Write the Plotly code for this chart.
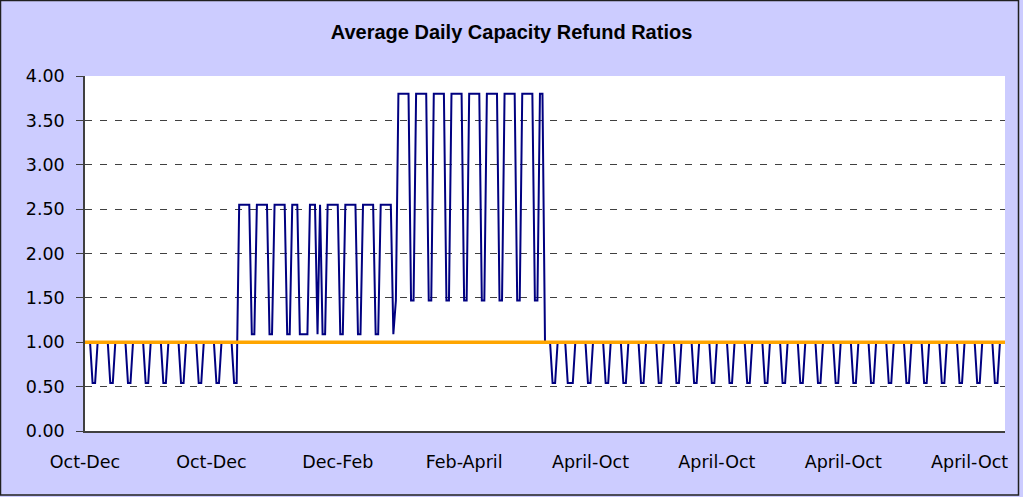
import plotly.graph_objects as go

# daily ratios, 1 Oct 2008 .. 30 Sep 2009 (weekdays high, weekends/holidays low)
oct_nov = [
    1.00, 1.00, 1.00, 0.54, 0.54,
    1.00, 1.00, 1.00, 1.00, 1.00, 0.54, 0.54,
    1.00, 1.00, 1.00, 1.00, 1.00, 0.54, 0.54,
    1.00, 1.00, 1.00, 1.00, 1.00, 0.54, 0.54,
    1.00, 1.00, 1.00, 1.00, 1.00,
    0.54, 0.54,
    1.00, 1.00, 1.00, 1.00, 1.00, 0.54, 0.54,
    1.00, 1.00, 1.00, 1.00, 1.00, 0.54, 0.54,
    1.00, 1.00, 1.00, 1.00, 1.00, 0.54, 0.54,
    1.00, 1.00, 1.00, 1.00, 1.00, 0.54, 0.54,
]
dec_jan = [
    2.55, 2.55, 2.55, 2.55, 2.55, 1.09, 1.09,
    2.55, 2.55, 2.55, 2.55, 2.55, 1.09, 1.09,
    2.55, 2.55, 2.55, 2.55, 2.55, 1.09, 1.09,
    2.55, 2.55, 2.55, 1.09, 1.09, 1.09, 1.09,
    2.55, 2.55, 2.55,
    1.09, 2.55, 1.09, 1.09,
    2.55, 2.55, 2.55, 2.55, 2.55, 1.09, 1.09,
    2.55, 2.55, 2.55, 2.55, 2.55, 1.09, 1.09,
    2.55, 2.55, 2.55, 2.55, 2.55, 1.09, 1.09,
    2.55, 2.55, 2.55, 2.55, 2.55, 1.09,
]
feb_mar = [
    1.47,
    3.80, 3.80, 3.80, 3.80, 3.80, 1.47, 1.47,
    3.80, 3.80, 3.80, 3.80, 3.80, 1.47, 1.47,
    3.80, 3.80, 3.80, 3.80, 3.80, 1.47, 1.47,
    3.80, 3.80, 3.80, 3.80, 3.80, 1.47,
    1.47,
    3.80, 3.80, 3.80, 3.80, 3.80, 1.47, 1.47,
    3.80, 3.80, 3.80, 3.80, 3.80, 1.47, 1.47,
    3.80, 3.80, 3.80, 3.80, 3.80, 1.47, 1.47,
    3.80, 3.80, 3.80, 3.80, 3.80, 1.47, 1.47,
    3.80, 3.80,
]
apr_sep = [
    # April
    1.00, 1.00, 1.00, 0.54, 0.54,
    1.00, 1.00, 1.00, 1.00, 0.54, 0.54, 0.54,
    1.00, 1.00, 1.00, 1.00, 1.00, 0.54, 0.54,
    1.00, 1.00, 1.00, 1.00, 1.00, 0.54, 0.54,
    1.00, 1.00, 1.00, 1.00,
    # May
    1.00, 0.54, 0.54,
    1.00, 1.00, 1.00, 1.00, 1.00, 0.54, 0.54,
    1.00, 1.00, 1.00, 1.00, 1.00, 0.54, 0.54,
    1.00, 1.00, 1.00, 1.00, 1.00, 0.54, 0.54,
    1.00, 1.00, 1.00, 1.00, 1.00, 0.54, 0.54,
    # June
    1.00, 1.00, 1.00, 1.00, 1.00, 0.54, 0.54,
    1.00, 1.00, 1.00, 1.00, 1.00, 0.54, 0.54,
    1.00, 1.00, 1.00, 1.00, 1.00, 0.54, 0.54,
    1.00, 1.00, 1.00, 1.00, 1.00, 0.54, 0.54,
    1.00, 1.00,
    # July
    1.00, 1.00, 1.00, 0.54, 0.54,
    1.00, 1.00, 1.00, 1.00, 1.00, 0.54, 0.54,
    1.00, 1.00, 1.00, 1.00, 1.00, 0.54, 0.54,
    1.00, 1.00, 1.00, 1.00, 1.00, 0.54, 0.54,
    1.00, 1.00, 1.00, 1.00, 1.00,
    # August
    0.54, 0.54,
    1.00, 1.00, 1.00, 1.00, 1.00, 0.54, 0.54,
    1.00, 1.00, 1.00, 1.00, 1.00, 0.54, 0.54,
    1.00, 1.00, 1.00, 1.00, 1.00, 0.54, 0.54,
    1.00, 1.00, 1.00, 1.00, 1.00, 0.54, 0.54,
    1.00,
    # September
    1.00, 1.00, 1.00, 1.00, 0.54, 0.54,
    1.00, 1.00, 1.00, 1.00, 1.00, 0.54, 0.54,
    1.00, 1.00, 1.00, 1.00, 1.00, 0.54, 0.54,
    1.00, 1.00, 1.00, 1.00, 1.00, 0.54, 0.54,
    1.00, 1.00, 1.00,
]
ratios = oct_nov + dec_jan + feb_mar + apr_sep
baseline = [1.00] * len(ratios)

tick_days = [0, 50, 100, 150, 200, 250, 300, 350]
tick_text = ["Oct-Dec", "Oct-Dec", "Dec-Feb", "Feb-April",
             "April-Oct", "April-Oct", "April-Oct", "April-Oct"]

days = list(range(len(ratios)))

fig = go.Figure()
fig.add_trace(go.Scatter(x=days, y=ratios, mode="lines",
                         line=dict(color="#000080", width=2)))
fig.add_trace(go.Scatter(x=days, y=baseline, mode="lines",
                         line=dict(color="#FFA500", width=3.5)))

tick_font = dict(family="DejaVu Sans", size=17.5, color="black")

fig.update_layout(
    width=1023, height=497,
    margin=dict(l=85, r=18, t=76, b=66),
    paper_bgcolor="#CCCCFF",
    plot_bgcolor="white",
    showlegend=False,
    title=dict(text="<b>Average Daily Capacity Refund Ratios</b>",
               x=0.5, xanchor="center", y=1 - 32 / 497, yanchor="middle",
               font=dict(family="Liberation Sans", size=20, color="black")),
    xaxis=dict(range=[0, len(ratios) - 1], tickvals=tick_days, ticktext=tick_text,
               showgrid=False, zeroline=False, showline=True,
               linecolor="#404040", linewidth=1.5, ticks="",
               ticklabelstandoff=14, tickfont=tick_font),
    yaxis=dict(range=[0, 4], dtick=0.5, tickformat=".2f",
               showgrid=True, gridcolor="#404040", gridwidth=1, griddash="7px,8px",
               zeroline=False, showline=True, linecolor="#404040", linewidth=1.5,
               ticks="outside", ticklen=7, tickcolor="#404040",
               ticklabelstandoff=8, tickfont=tick_font),
    shapes=[dict(type="rect", xref="paper", yref="paper",
                 x0=-84.5 / 920, x1=933.5 / 920, y0=-64 / 355, y1=430.5 / 355,
                 line=dict(color="#202020", width=1.5), layer="below")],
)

fig.write_html("out.html", config={"displayModeBar": False},
               post_script="document.body.style.margin='0';document.body.style.overflow='hidden';")
